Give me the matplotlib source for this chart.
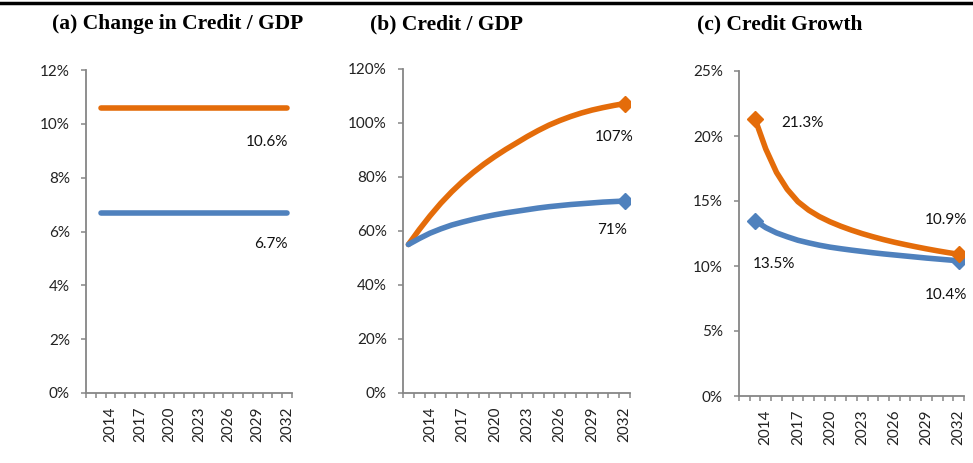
import matplotlib
matplotlib.use("Agg")
import matplotlib.pyplot as plt
from matplotlib.ticker import FuncFormatter, FixedLocator
from matplotlib.lines import Line2D

# ---------------- data ----------------
years = list(range(2012, 2033))
tick_years = [2014, 2017, 2020, 2023, 2026, 2029, 2032]

# (a) Change in Credit / GDP (2013-2032)
a_years = list(range(2013, 2033))
a_orange = [10.6] * 20
a_blue = [6.7] * 20

# (b) Credit / GDP (2012-2032)
b_years = list(range(2012, 2033))
b_orange = [55, 60.5, 65.6, 70.3, 74.5, 78.3, 81.7, 84.8, 87.6, 90.2, 92.6,
            95.0, 97.2, 99.2, 100.9, 102.4, 103.7, 104.8, 105.7, 106.5, 107.2]
b_blue = [55, 57.2, 59.2, 60.8, 62.2, 63.3, 64.3, 65.2, 66, 66.7, 67.3,
          67.9, 68.5, 69, 69.4, 69.8, 70.1, 70.4, 70.7, 70.9, 71.1]

# (c) Credit Growth (2013-2032)
c_years = list(range(2013, 2033))
c_orange = [21.3, 19.0, 17.2, 15.9, 14.95, 14.3, 13.8, 13.4, 13.06, 12.76,
            12.49, 12.25, 12.03, 11.83, 11.65, 11.48, 11.32, 11.17, 11.03, 10.9]
c_blue = [13.5, 12.95, 12.55, 12.25, 11.98, 11.78, 11.6, 11.45, 11.33, 11.22,
          11.12, 11.02, 10.93, 10.85, 10.77, 10.69, 10.61, 10.54, 10.47, 10.4]

titles = ["(a) Change in Credit / GDP", "(b) Credit / GDP", "(c) Credit Growth"]

ORANGE = "#E46C0A"
BLUE = "#4F81BD"
GRAY = "#868686"
TXT_FONT = "Lato"
FS = 11

W, H = 973, 463
fig = plt.figure(figsize=(W / 100, H / 100), dpi=100)


def px_axes(l, r, t, b):
    return fig.add_axes([l / W, 1 - b / H, (r - l) / W, (b - t) / H])


axA = px_axes(86, 292, 70, 393)
axB = px_axes(403, 630, 69, 393)
axC = px_axes(739, 964, 71, 396)


def style(ax, ymax, ystep):
    x0 = years[0]
    ax.set_xlim(x0 - 0.5, years[-1] + 0.5)
    ax.set_ylim(0, ymax)
    ax.set_yticks(list(range(0, ymax + 1, ystep)))
    ax.yaxis.set_major_formatter(FuncFormatter(lambda v, p: f"{int(round(v))}%"))
    ax.set_xticks(tick_years)
    ax.set_xticklabels([str(y) for y in tick_years], rotation=90)
    ax.xaxis.set_minor_locator(FixedLocator([y - 0.5 for y in years] + [years[-1] + 0.5]))
    for s in ("top", "right"):
        ax.spines[s].set_visible(False)
    for s in ("left", "bottom"):
        ax.spines[s].set_color(GRAY)
        ax.spines[s].set_linewidth(1.3)
    ax.tick_params(axis="x", which="major", length=0, pad=9.5)
    ax.tick_params(axis="x", which="minor", length=3.6, width=1.1, color=GRAY, direction="out")
    ax.tick_params(axis="y", which="major", length=3.6, width=1.1, color=GRAY, pad=8)
    for lab in ax.get_xticklabels() + ax.get_yticklabels():
        lab.set_fontfamily(TXT_FONT)
        lab.set_fontsize(FS)
        lab.set_color("#222222")


LW = 4.0
MS = 8.5

# (a)
axA.plot(a_years, a_orange, color=ORANGE, lw=LW, solid_capstyle="round")
axA.plot(a_years, a_blue, color=BLUE, lw=LW, solid_capstyle="round")
style(axA, 12, 2)

# (b)
axB.plot(b_years, b_orange, color=ORANGE, lw=LW, solid_capstyle="round", solid_joinstyle="round")
axB.plot(b_years, b_blue, color=BLUE, lw=LW, solid_capstyle="round", solid_joinstyle="round")
axB.plot([b_years[-1]], [b_orange[-1]], "D", color=ORANGE, ms=MS)
axB.plot([b_years[-1]], [b_blue[-1]], "D", color=BLUE, ms=MS)
style(axB, 120, 20)

# (c)
axC.plot(c_years, c_blue, color=BLUE, lw=LW, solid_capstyle="round", solid_joinstyle="round")
axC.plot(c_years, c_orange, color=ORANGE, lw=LW, solid_capstyle="round", solid_joinstyle="round")
axC.plot([c_years[0], c_years[-1]], [c_blue[0], c_blue[-1]], "D", color=BLUE, ms=MS)
axC.plot([c_years[0], c_years[-1]], [c_orange[0], c_orange[-1]], "D", color=ORANGE, ms=MS)
style(axC, 25, 5)


def lab(ax, x, y, text, dx, dy, ha):
    ax.annotate(text, xy=(x, y), xytext=(dx, dy), textcoords="offset pixels",
                ha=ha, va="center", fontsize=FS, fontfamily=TXT_FONT, color="#111111")


lab(axA, a_years[-1], a_orange[-1], f"{a_orange[-1]:.1f}%", 1, -34, "right")
lab(axA, a_years[-1], a_blue[-1], f"{a_blue[-1]:.1f}%", 1, -31, "right")
lab(axB, b_years[-1], b_orange[-1], "107%", -10, -33, "center")
lab(axB, b_years[-1], b_blue[-1], "71%", -13, -29, "center")
lab(axC, c_years[0], c_orange[0], f"{c_orange[0]:.1f}%", 26, -4, "left")
lab(axC, c_years[0], c_blue[0], f"{c_blue[0]:.1f}%", -2, -43, "left")
lab(axC, c_years[-1], c_orange[-1], f"{c_orange[-1]:.1f}%", 9, 34, "right")
lab(axC, c_years[-1], c_blue[-1], f"{c_blue[-1]:.1f}%", 9, -34, "right")

# titles
for cx, t in zip([178, 447, 780], titles):
    fig.text(cx / W, 1 - 24 / H, t, ha="center", va="center",
             fontfamily="Liberation Serif", fontweight="bold", fontsize=15.5)

# top rule
fig.add_artist(Line2D([0, 1], [1 - 2.5 / H, 1 - 2.5 / H], transform=fig.transFigure,
                      color="black", lw=2.5))

fig.savefig("out.png", dpi=100)
